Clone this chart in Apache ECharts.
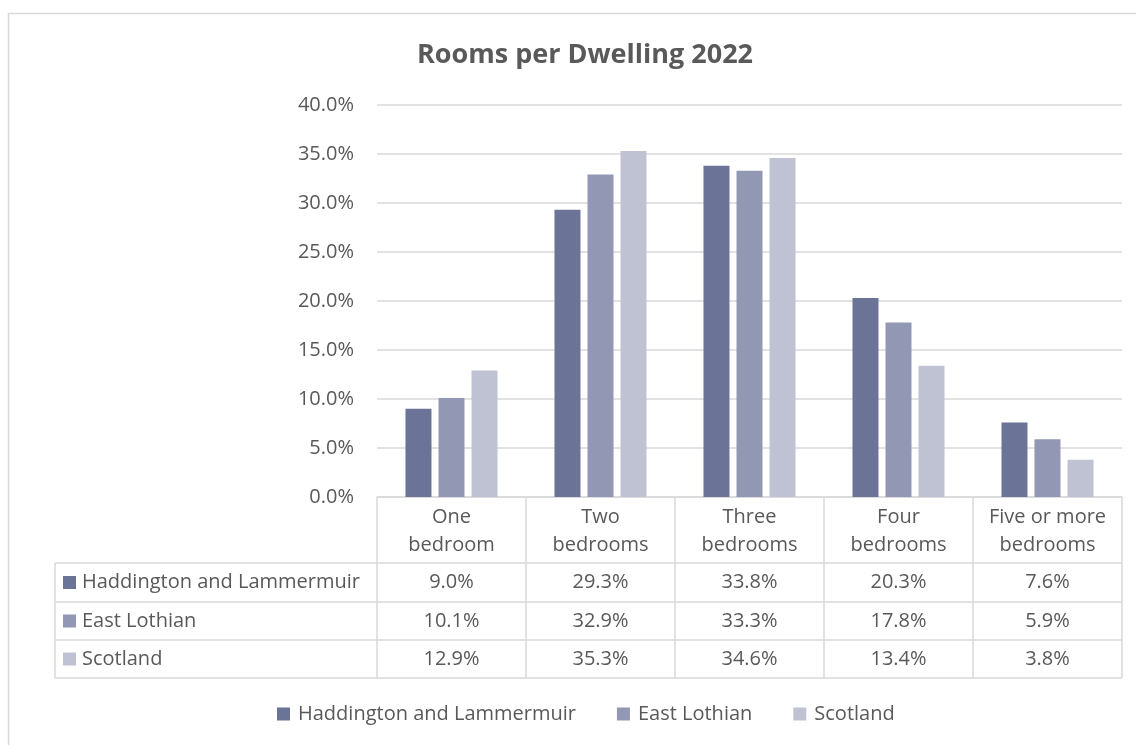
<!DOCTYPE html>
<html>
<head>
<meta charset="utf-8">
<script src="https://cdn.jsdelivr.net/npm/echarts@6/dist/echarts.min.js"></script>
<style>
  html, body { margin: 0; padding: 0; background: #fff; }
  #chart { width: 1136px; height: 745px; }
</style>
</head>
<body>
<div id="chart"></div>
<script>
const categories = ["One\nbedroom", "Two\nbedrooms", "Three\nbedrooms", "Four\nbedrooms", "Five or more\nbedrooms"];
const seriesNames = ["Haddington and Lammermuir", "East Lothian", "Scotland"];
const haddington = [9.0, 29.3, 33.8, 20.3, 7.6];
const eastLothian = [10.1, 32.9, 33.3, 17.8, 5.9];
const scotland = [12.9, 35.3, 34.6, 13.4, 3.8];
const yTicks = [0, 5, 10, 15, 20, 25, 30, 35, 40];

const colors = ["#6b7497", "#9298b3", "#bfc2d3"];
const values = [haddington, eastLothian, scotland];
const font = "'Open Sans'";
const fontSize = 20;
const textColor = "#595959";
const lineColor = "#d9d9d9";

// layout
const plot = { left: 377, right: 1122, top: 105, bottom: 497 };
const tableLeft = 55;
const rowLines = [563, 602, 640, 678];

const chart = echarts.init(document.getElementById("chart"), null, { renderer: "canvas" });

// one extra category axis per table row, labels read from the series arrays
const rowAxes = values.map((vals, i) => ({
  type: "category",
  gridIndex: 0,
  position: "bottom",
  offset: (rowLines[i] + rowLines[i + 1]) / 2 - plot.bottom,
  data: categories,
  axisLine: { show: false },
  axisTick: { show: false },
  axisLabel: {
    interval: 0,
    margin: 0,
    verticalAlign: "middle",
    color: textColor,
    fontFamily: font,
    fontSize: fontSize,
    formatter: (v, idx) => vals[idx].toFixed(1) + "%",
  },
}));

const graphics = [
  // outer chart border
  { type: "rect", shape: { x: 8.5, y: 13.5, width: 1200, height: 800 }, style: { fill: null, stroke: lineColor, lineWidth: 1.5 }, silent: true },
];
rowLines.forEach((y) => {
  graphics.push({ type: "line", shape: { x1: tableLeft, y1: y, x2: plot.right, y2: y }, style: { stroke: lineColor, lineWidth: 1.5 }, silent: true });
});
graphics.push({ type: "line", shape: { x1: tableLeft, y1: rowLines[0], x2: tableLeft, y2: rowLines[3] }, style: { stroke: lineColor, lineWidth: 1.5 }, silent: true });
seriesNames.forEach((name, i) => {
  const cy = (rowLines[i] + rowLines[i + 1]) / 2;
  graphics.push({ type: "rect", shape: { x: 63, y: cy - 6.5, width: 13, height: 13 }, style: { fill: colors[i] }, silent: true });
  graphics.push({ type: "text", x: 82, y: cy, style: { text: name, fill: textColor, font: fontSize + "px " + font, verticalAlign: "middle" }, silent: true });
});

const option = {
  backgroundColor: "#fff",
  animation: false,
  color: colors,
  title: {
    text: "Rooms per Dwelling 2022",
    left: 580,
    textAlign: "center",
    top: 37,
    textStyle: { color: textColor, fontFamily: font, fontSize: 27, fontWeight: "bold" },
  },
  grid: {
    left: plot.left,
    right: 1136 - plot.right,
    top: plot.top,
    bottom: 745 - plot.bottom,
  },
  legend: {
    bottom: 16,
    left: 272,
    itemWidth: 13,
    itemHeight: 13,
    itemGap: 41,
    icon: "rect",
    textStyle: { color: textColor, fontFamily: font, fontSize: fontSize, padding: [0, 0, 0, 3] },
    data: seriesNames,
  },
  xAxis: [
    {
      type: "category",
      data: categories,
      axisLine: { show: true, lineStyle: { color: lineColor, width: 1.5 } },
      axisTick: { show: true, length: rowLines[3] - plot.bottom, interval: 0, lineStyle: { color: lineColor, width: 1.5 } },
      axisLabel: {
        interval: 0,
        margin: 34,
        verticalAlign: "middle",
        lineHeight: 28,
        color: textColor,
        fontFamily: font,
        fontSize: fontSize,
      },
    },
    ...rowAxes,
  ],
  yAxis: {
    type: "value",
    min: yTicks[0],
    max: yTicks[yTicks.length - 1],
    interval: 5,
    axisLine: { show: false },
    axisTick: { show: false },
    splitLine: { lineStyle: { color: lineColor, width: 1.5 } },
    axisLabel: {
      margin: 23,
      color: textColor,
      fontFamily: font,
      fontSize: fontSize,
      formatter: (v) => v.toFixed(1) + "%",
    },
  },
  series: values.map((vals, i) => ({
    name: seriesNames[i],
    type: "bar",
    barWidth: 26,
    barGap: "27%",
    data: vals,
  })),
  graphic: graphics,
};
chart.setOption(option);
</script>
</body>
</html>
